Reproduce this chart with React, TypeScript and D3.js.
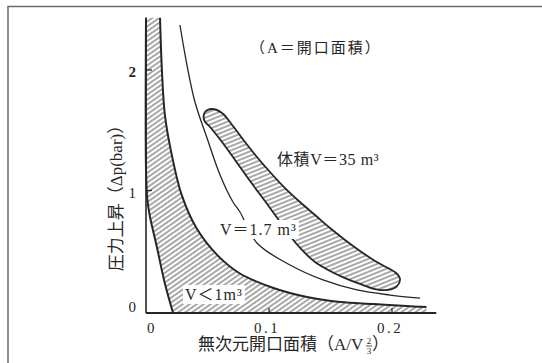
import React, { useEffect, useRef } from 'react';
import * as d3 from 'd3';

type Pt = [number, number];

const xTicks = [0, 0.1, 0.2];
const xTickLabels = ['0', '0.1', '0.2'];
const yTicks = [0, 1, 2];
const yTickLabels = ['0', '1', '2'];

// V < 1 m3 band: left (inner) edge and right (outer) edge, [A/V^(2/3), Δp bar]
const bandInner: Pt[] = [
  [0, 2.45], [0, 1.2], [0.001, 0.95], [0.003, 0.81], [0.009, 0.54], [0.015, 0.26], [0.022, 0],
];
const bandOuter: Pt[] = [
  [0.0114, 2.45], [0.013, 2.0], [0.0154, 1.64], [0.021, 1.31], [0.029, 0.98], [0.041, 0.705],
  [0.058, 0.48], [0.076, 0.33], [0.103, 0.21], [0.131, 0.133], [0.158, 0.091], [0.185, 0.075],
  [0.212, 0.058], [0.228, 0.05],
];

// V = 1.7 m3 line
const curveV17: Pt[] = [
  [0.0276, 2.39], [0.0333, 2.058], [0.0398, 1.751], [0.0496, 1.452], [0.0602, 1.145],
  [0.0707, 0.921], [0.0764, 0.838], [0.0902, 0.581], [0.1171, 0.398], [0.1439, 0.274],
  [0.1715, 0.191], [0.1984, 0.149], [0.2228, 0.124],
];

// V = 35 m3 region outline
const blobV35: Pt[] = [
  [0.0537, 1.693], [0.0618, 1.66], [0.0707, 1.552], [0.0805, 1.419], [0.0902, 1.295],
  [0.1008, 1.17], [0.113, 1.037], [0.1252, 0.921], [0.1374, 0.813], [0.1496, 0.705],
  [0.1618, 0.606], [0.174, 0.515], [0.1862, 0.432], [0.1967, 0.373], [0.2033, 0.332],
  [0.2065, 0.282], [0.2041, 0.224], [0.1967, 0.191], [0.1862, 0.199], [0.174, 0.241],
  [0.1618, 0.29], [0.1496, 0.349], [0.1374, 0.423], [0.1268, 0.523], [0.1171, 0.639],
  [0.1073, 0.78], [0.0967, 0.929], [0.0846, 1.095], [0.0724, 1.27], [0.0618, 1.419],
  [0.0528, 1.535], [0.0472, 1.602], [0.048, 1.668],
];

const xAxisMax = 0.236;
const yAxisMax = 2.45;

const App: React.FC = () => {
  const svgRef = useRef<SVGSVGElement | null>(null);

  useEffect(() => {
    const svg = d3.select(svgRef.current);
    svg.selectAll('*').remove();

    const x = d3.scaleLinear().domain([0, 0.2]).range([146, 392]);
    const y = d3.scaleLinear().domain([0, 2]).range([313, 72]);
    const ink = '#262626';
    const font = "'Liberation Serif', 'Noto Sans CJK JP', serif";

    // hatch patterns
    const defs = svg.append('defs');
    const hatch = (id: string, angle: number, gap: number) => {
      const p = defs.append('pattern')
        .attr('id', id)
        .attr('patternUnits', 'userSpaceOnUse')
        .attr('width', gap)
        .attr('height', gap)
        .attr('patternTransform', `rotate(${angle})`);
      p.append('line')
        .attr('x1', 0).attr('y1', gap / 2).attr('x2', gap).attr('y2', gap / 2)
        .attr('stroke', ink).attr('stroke-width', 0.8);
    };
    hatch('hatchBand', -35, 4);
    hatch('hatchBlob', -22, 4);

    // frame (scan edge)
    svg.append('path')
      .attr('d', 'M8,363V6.5H542')
      .attr('fill', 'none').attr('stroke', '#6a6a6a').attr('stroke-width', 1.5);

    const lineCR = d3.line<Pt>()
      .x(d => x(d[0]))
      .y(d => y(d[1]))
      .curve(d3.curveCatmullRom.alpha(0.5));

    // V < 1 band
    const innerD = lineCR(bandInner) as string;
    const outerRevD = lineCR([...bandOuter].reverse()) as string;
    const endPt = bandOuter[bandOuter.length - 1];
    svg.append('path')
      .attr('d', innerD + `L${x(endPt[0])},${y(0)}` + outerRevD.replace(/^M/, 'L') + 'Z')
      .attr('fill', 'url(#hatchBand)');
    svg.append('path').attr('d', innerD)
      .attr('fill', 'none').attr('stroke', ink).attr('stroke-width', 2);
    svg.append('path').attr('d', lineCR(bandOuter) as string)
      .attr('fill', 'none').attr('stroke', ink).attr('stroke-width', 2);

    // V = 35 region
    svg.append('path')
      .attr('d', d3.line<Pt>().x(d => x(d[0])).y(d => y(d[1]))
        .curve(d3.curveCatmullRomClosed.alpha(0.5))(blobV35) as string)
      .attr('fill', 'url(#hatchBlob)')
      .attr('stroke', ink).attr('stroke-width', 1.8);

    // V = 1.7 line
    svg.append('path').attr('d', lineCR(curveV17) as string)
      .attr('fill', 'none').attr('stroke', ink).attr('stroke-width', 1.3);

    // axes
    svg.append('line')
      .attr('x1', x(0)).attr('x2', x(0)).attr('y1', y(yAxisMax)).attr('y2', y(0))
      .attr('stroke', ink).attr('stroke-width', 1.6);
    svg.append('line')
      .attr('x1', x(0)).attr('x2', x(xAxisMax)).attr('y1', y(0)).attr('y2', y(0))
      .attr('stroke', ink).attr('stroke-width', 2);

    xTicks.forEach((t, i) => {
      if (t > 0) {
        svg.append('line')
          .attr('x1', x(t)).attr('x2', x(t)).attr('y1', y(0)).attr('y2', y(0) - 5)
          .attr('stroke', ink).attr('stroke-width', 1.2);
      }
      svg.append('text')
        .attr('x', x(t) + (t === 0 ? 6 : -2))
        .attr('y', y(0) + 20)
        .attr('text-anchor', 'middle')
        .attr('font-family', font)
        .attr('font-size', 15)
        .attr('letter-spacing', 2.5)
        .attr('fill', ink)
        .text(xTickLabels[i]);
    });

    yTicks.forEach((t, i) => {
      if (t > 0) {
        svg.append('line')
          .attr('x1', x(0)).attr('x2', x(0) + 6).attr('y1', y(t) - 2).attr('y2', y(t) - 2)
          .attr('stroke', ink).attr('stroke-width', 1.2);
      }
      svg.append('text')
        .attr('x', x(0) - 10)
        .attr('y', t === 0 ? y(0) - 1 : y(t) + 5)
        .attr('text-anchor', 'end')
        .attr('font-family', font)
        .attr('font-size', 15)
        .attr('font-weight', t === 2 ? 'bold' : 'normal')
        .attr('fill', ink)
        .text(yTickLabels[i]);
    });

    // labels
    const label = (txt: string, lx: number, ly: number, size: number, spacing: number, boxed: boolean) => {
      const t = svg.append('text')
        .attr('x', lx).attr('y', ly)
        .attr('font-family', font)
        .attr('font-size', size)
        .attr('letter-spacing', spacing)
        .attr('fill', ink)
        .text(txt);
      if (boxed) {
        const b = (t.node() as SVGTextElement).getBBox();
        svg.insert('rect', () => t.node() as SVGTextElement)
          .attr('x', b.x - 2).attr('y', b.y - 1)
          .attr('width', b.width + 4).attr('height', b.height + 2)
          .attr('fill', '#fff');
      }
    };
    label('（A＝開口面積）', 250, 53, 15, 2, false);
    label('体積V＝35 m³', 277, 165, 16, 0.6, false);
    label('V＝1.7 m³', 220, 235, 16, 1, true);
    label('V＜1m³', 185, 300, 16, 1, true);

    // x-axis title with stacked 2/3 exponent
    const xt = svg.append('text')
      .attr('x', 198).attr('y', 350)
      .attr('font-family', font).attr('font-size', 17).attr('fill', ink)
      .text('無次元開口面積（A/V');
    const xb = (xt.node() as SVGTextElement).getBBox();
    const fx = xb.x + xb.width + 5;
    svg.append('text').attr('x', fx).attr('y', 344)
      .attr('text-anchor', 'middle').attr('font-family', font).attr('font-size', 9)
      .attr('fill', ink).text('2');
    svg.append('line').attr('x1', fx - 3).attr('x2', fx + 3).attr('y1', 346).attr('y2', 346)
      .attr('stroke', ink).attr('stroke-width', 0.8);
    svg.append('text').attr('x', fx).attr('y', 354)
      .attr('text-anchor', 'middle').attr('font-family', font).attr('font-size', 9)
      .attr('fill', ink).text('3');
    svg.append('text').attr('x', fx + 3).attr('y', 350)
      .attr('font-family', font).attr('font-size', 17).attr('fill', ink)
      .text('）');

    // y-axis title
    svg.append('text')
      .attr('transform', 'translate(122,194) rotate(-90)')
      .attr('text-anchor', 'middle')
      .attr('font-family', font).attr('font-size', 17).attr('fill', ink)
      .text('圧力上昇（Δp(bar)）');
  }, []);

  return (
    <svg
      ref={svgRef}
      width={542}
      height={363}
      style={{ position: 'absolute', left: 0, top: 0, background: '#fff' }}
    />
  );
};

export default App;
